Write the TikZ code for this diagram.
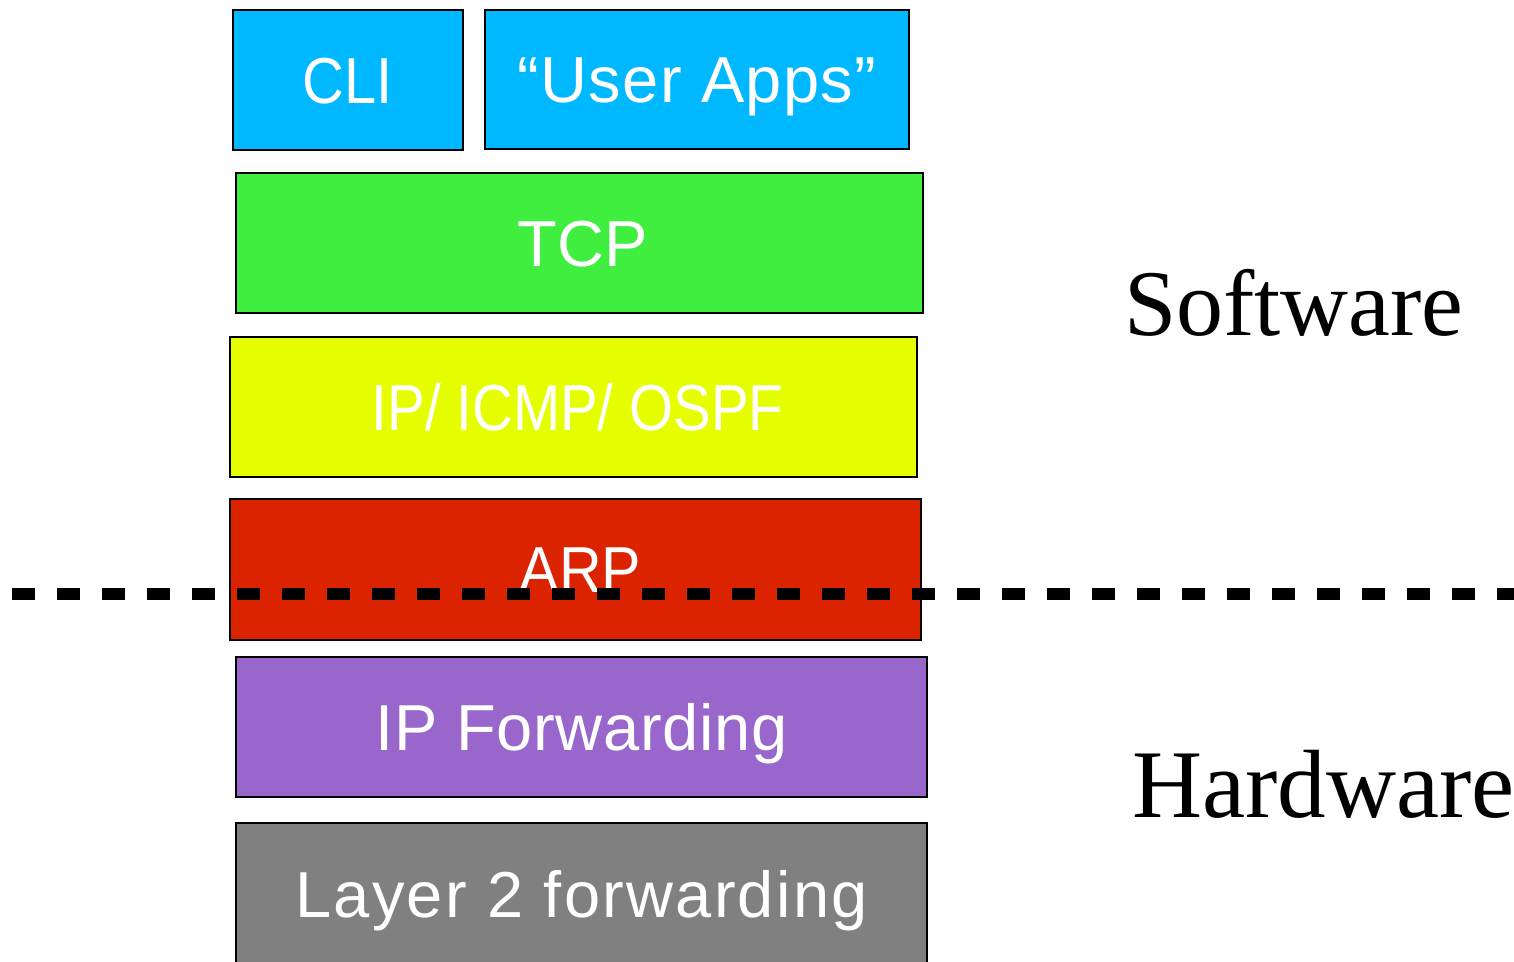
\documentclass[tikz,border=0pt]{standalone}
\usepackage{fontspec}
\setmainfont{Liberation Serif}
\newfontfamily\boxfont{Liberation Sans}
\usepackage{graphicx}
\definecolor{appblue}{RGB}{0,184,255}
\definecolor{tcpgreen}{RGB}{63,238,63}
\definecolor{ipyellow}{RGB}{229,255,0}
\definecolor{arpred}{RGB}{220,35,0}
\definecolor{fwdpurple}{RGB}{153,102,204}
\definecolor{ltwogray}{RGB}{128,128,128}
\tikzset{
  layerbox/.style={draw=black, line width=1.2pt, inner sep=0pt, minimum height=140pt,
    text=white, font=\boxfont\fontsize{65}{70}\selectfont, text height=46.5pt, text depth=0pt},
  sidelabel/.style={anchor=base west, inner sep=0pt, font=\fontsize{94}{100}\selectfont}
}
\begin{document}
\begin{tikzpicture}[x=1pt,y=-1pt]
\useasboundingbox (0,0) rectangle (1514,961);
\node[layerbox, fill=appblue, minimum width=230pt] (cli) at (348,80) {\scalebox{0.89}[1]{CLI}};
\node[layerbox, fill=appblue, minimum width=424pt, minimum height=139pt] (apps) at (697,79.5) {\addfontfeature{LetterSpace=2}“User Apps”};
\node[layerbox, fill=tcpgreen, minimum width=687pt] (tcp) at (579.5,243) {\hspace*{6pt}TCP};
\node[layerbox, fill=ipyellow, minimum width=687pt] (ip) at (573.5,407) {\hspace*{8pt}\scalebox{0.87}[1]{IP/ ICMP/ OSPF}};
\node[layerbox, fill=arpred, minimum width=691pt, minimum height=141pt] (arp) at (575.5,569.5) {\hspace*{10pt}\scalebox{0.91}[1]{ARP}};
\node[layerbox, fill=fwdpurple, minimum width=691pt] (fwd) at (581.5,727) {\addfontfeature{LetterSpace=1}IP Forwarding};
\node[layerbox, fill=ltwogray, minimum width=691pt, minimum height=142pt] (ltwo) at (581.5,894) {\addfontfeature{LetterSpace=3.5}Layer 2 forwarding};
\coordinate (dashL) at (12,594);
\coordinate (dashR) at (1514,594);
\draw[line width=12pt, dash pattern=on 23pt off 22pt] (dashL) -- (dashR);
\node[sidelabel] (sw) at (1124,335) {Software};
\node[sidelabel, font=\fontsize{97}{100}\selectfont] (hw) at (1132,817) {Hardware};
\end{tikzpicture}
\end{document}
